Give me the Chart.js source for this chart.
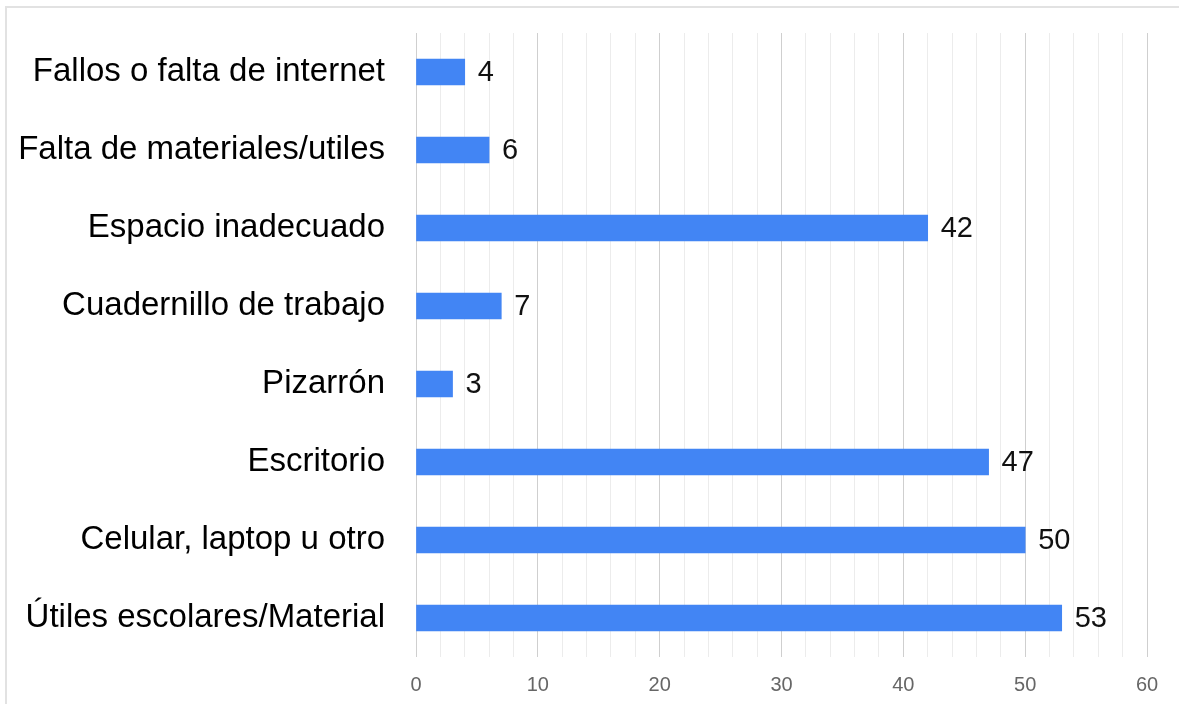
<!DOCTYPE html>
<html>
<head>
<meta charset="utf-8">
<script src="https://cdn.jsdelivr.net/npm/chart.js@4.4.1/dist/chart.umd.min.js"></script>
<style>
  html, body { margin: 0; padding: 0; background: #fff; }
  #wrap { position: relative; width: 1179px; height: 704px; overflow: hidden; }
  #frame { position: absolute; left: 5px; top: 6px; right: -10px; bottom: -10px;
           border-top: 2px solid #e2e2e2; border-left: 2px solid #e2e2e2; }
  #chart { position: absolute; left: 0; top: 0; }
</style>
</head>
<body>
<div id="wrap">
  <div id="frame"></div>
  <canvas id="chart" width="1179" height="704"></canvas>
</div>
<script>
const categories = [
  'Fallos o falta de internet',
  'Falta de materiales/utiles',
  'Espacio inadecuado',
  'Cuadernillo de trabajo',
  'Pizarrón',
  'Escritorio',
  'Celular, laptop u otro',
  'Útiles escolares/Material'
];
const counts = [4, 6, 42, 7, 3, 47, 50, 53];
const xTicks = [0, 10, 20, 30, 40, 50, 60];

const FONT = "'Liberation Sans', Arial, Helvetica, sans-serif";

// writes each bar's count just past its end
const valueLabels = {
  id: 'valueLabels',
  afterDatasetsDraw(chart) {
    const ctx = chart.ctx;
    const meta = chart.getDatasetMeta(0);
    ctx.save();
    ctx.font = '29px ' + FONT;
    ctx.fillStyle = '#111';
    ctx.textAlign = 'left';
    ctx.textBaseline = 'middle';
    meta.data.forEach((bar, i) => {
      ctx.fillText(String(counts[i]), bar.x + 13, bar.y + 1);
    });
    ctx.restore();
  }
};

new Chart(document.getElementById('chart'), {
  type: 'bar',
  data: {
    labels: categories,
    datasets: [{
      data: counts,
      backgroundColor: '#4285f4',
      borderWidth: 0,
      barThickness: 26
    }]
  },
  options: {
    indexAxis: 'y',
    responsive: false,
    animation: false,
    layout: { padding: { left: 0, right: 32, top: 33, bottom: 0 } },
    plugins: {
      legend: { display: false },
      tooltip: { enabled: false }
    },
    scales: {
      x: {
        min: 0,
        max: 60,
        afterFit(scale) {
          scale.height = 47;
          scale.paddingLeft = 0;
          scale.paddingRight = 0;
        },
        border: { display: false },
        grid: {
          drawTicks: false,
          lineWidth: 1,
          color: c => (c.tick && xTicks.includes(c.tick.value)) ? '#cfcfcf' : '#ececec'
        },
        ticks: {
          stepSize: 2,
          autoSkip: false,
          maxRotation: 0,
          padding: 16,
          color: '#666',
          font: { family: FONT, size: 20 },
          callback: v => xTicks.includes(v) ? String(v) : ''
        }
      },
      y: {
        afterFit(scale) {
          scale.width = 416;
          scale.paddingTop = 0;
          scale.paddingBottom = 0;
        },
        border: { display: false },
        grid: { display: false, drawTicks: false },
        ticks: {
          padding: 31,
          color: '#000',
          font: { family: FONT, size: 33 }
        }
      }
    }
  },
  plugins: [valueLabels]
});
</script>
</body>
</html>
